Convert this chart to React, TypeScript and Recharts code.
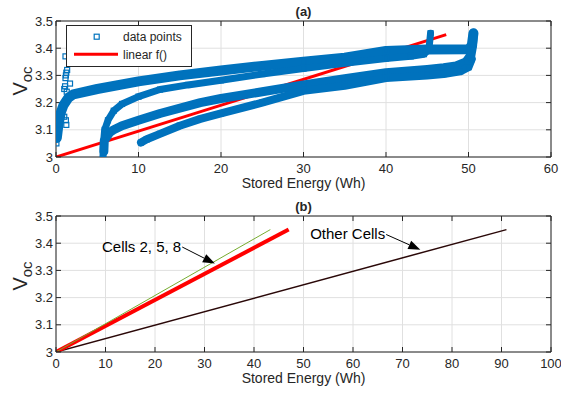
import {
  ComposedChart,
  Scatter,
  Line,
  XAxis,
  YAxis,
  CartesianGrid,
  ReferenceLine,
} from "recharts";

const FONT = '"Liberation Sans", Arial, Helvetica, sans-serif';
const BLUE = "#0072BD";
const RED = "#FF0000";
const GREEN = "#77AC30";
const DARK = "#2a0808";
const INK = "#262626";
const GRID = "#e0e0e0";

type Pt = [number, number];

// tick labels
const energyTicksA = [0, 10, 20, 30, 40, 50, 60];
const energyTicksB = [0, 10, 20, 30, 40, 50, 60, 70, 80, 90, 100];
const vocTicks = [3, 3.1, 3.2, 3.3, 3.4, 3.5];

const bandA: Pt[] = [
  [0.1, 3.07], [0.3, 3.12], [0.6, 3.165], [0.9, 3.19], [1.5, 3.218], [2.1, 3.23],
  [5, 3.25], [10, 3.278], [15, 3.3], [20, 3.318], [25, 3.335], [30, 3.35],
  [35, 3.365], [40, 3.39], [45, 3.395], [50, 3.396], [50.4, 3.41], [50.6, 3.455],
];
const bandBUpper: Pt[] = [
  [5.7, 3.0], [5.75, 3.05], [5.9, 3.1], [6.3, 3.135], [7, 3.17], [8, 3.195],
  [10, 3.222], [12.6, 3.248], [16, 3.265], [20, 3.282], [25, 3.305], [30, 3.325],
  [35, 3.345], [40, 3.362], [43, 3.37], [44.6, 3.378], [45.2, 3.395], [45.4, 3.455],
];
const bandBLower: Pt[] = [
  [5.8, 3.02], [5.85, 3.06], [6.5, 3.09], [7, 3.1], [8, 3.115], [10, 3.135],
  [12.6, 3.16], [17.5, 3.2], [20, 3.215], [25, 3.24], [30, 3.265], [35, 3.288],
  [40, 3.31], [45, 3.322], [47, 3.328], [48.5, 3.335], [49.7, 3.35], [50.3, 3.375],
  [50.5, 3.41], [50.6, 3.455],
];
const bandC: Pt[] = [
  [10.3, 3.053], [11, 3.065], [12.6, 3.085], [15, 3.115], [17.5, 3.14], [20, 3.16],
  [25, 3.2], [30, 3.243], [35, 3.262], [40, 3.29], [45, 3.3], [47, 3.305],
  [49, 3.315], [50, 3.33], [50.4, 3.36],
];
const loosePoints: Pt[] = [
  [0.05, 3.05], [0.05, 3.085], [1.0, 3.148], [1.2, 3.135], [1.25, 3.118],
  [1.0, 3.25], [1.1, 3.26], [1.15, 3.29], [1.25, 3.31], [1.2, 3.3],
  [1.15, 3.37], [1.7, 3.27], [1.3, 3.24], [1.35, 3.32],
];
const linearFit: Pt[] = [[0, 3], [47.3, 3.45]];

// (b) fitted lines
const fitOther: Pt[] = [[0, 3], [91, 3.45]];
const fitCells258: Pt[] = [[0, 3], [47, 3.45]];
const fitGreen: Pt[] = [[0, 3], [43.3, 3.45]];

const calloutCells = { text: "Cells 2, 5, 8", from: [25.5, 3.386] as Pt, to: [32.1, 3.325] as Pt };
const calloutOther = { text: "Other Cells", from: [66.7, 3.432] as Pt, to: [73.6, 3.376] as Pt };

const legendRows = [
  { name: "data points", marker: "square" },
  { name: "linear f()", marker: "line" },
];

const toXY = (pts: Pt[]) => pts.map(([x, y]) => ({ x, y }));

const tickStyle = { fontSize: 13, fill: INK, fontFamily: FONT };
const NoTick = () => <g />;

const HollowSquare = (p: any) =>
  p.cx == null ? null : (
    <rect x={p.cx - 2.5} y={p.cy - 2.5} width={5} height={5} fill="none" stroke={BLUE} strokeWidth={1.2} />
  );

const VocLabel = ({ viewBox }: any) => {
  if (!viewBox) return null;
  const cx = viewBox.x + 27;
  const cy = viewBox.y + viewBox.height / 2 - 8;
  return (
    <text transform={`translate(${cx},${cy}) rotate(-90)`} textAnchor="middle" fill={INK} fontFamily={FONT}>
      <tspan fontSize={20}>V</tspan>
      <tspan fontSize={15} dy={5}>oc</tspan>
    </text>
  );
};

// legend box drawn over plot (a), top-left corner inside the axes
function FitLegend() {
  return (
    <svg width={126} height={42} style={{ position: "absolute", left: 66, top: 25, display: "block" }}>
      <rect x={0.5} y={0.5} width={125} height={41} fill="#fff" stroke={INK} strokeWidth={1} />
      {legendRows.map((r, i) => {
        const cy = 11.7 + i * 17.5;
        return (
          <g key={r.name}>
            {r.marker === "square" ? (
              <rect x={28.2} y={cy - 2.5} width={5} height={5} fill="none" stroke={BLUE} strokeWidth={1.2} />
            ) : (
              <line x1={8} x2={52} y1={cy} y2={cy} stroke={RED} strokeWidth={3} />
            )}
            <text x={57} y={cy + 4.3} fontSize={12} fontFamily={FONT} fill={INK}>
              {r.name}
            </text>
          </g>
        );
      })}
    </svg>
  );
}

function Callout(props: any, text: string) {
  const { x1, y1, x2, y2 } = props;
  if (x1 == null) return <g />;
  const ang = Math.atan2(y2 - y1, x2 - x1);
  const L = 12;
  const W = 4.5;
  const bx = x2 - L * Math.cos(ang);
  const by = y2 - L * Math.sin(ang);
  const px = -Math.sin(ang) * W;
  const py = Math.cos(ang) * W;
  return (
    <g>
      <line x1={x1} y1={y1} x2={bx} y2={by} stroke="#000" strokeWidth={1} />
      <polygon points={`${x2},${y2} ${bx + px},${by + py} ${bx - px},${by - py}`} fill="#000" />
      <text x={x1 - 1} y={y1 + 5} textAnchor="end" fontSize={15} fontFamily={FONT} fill="#000">
        {text}
      </text>
    </g>
  );
}

// box axes: labelled bottom/left, plus mirrored copies for inward ticks on all four sides
function frame(xDomain: number[], xTicks: number[], title: string) {
  return [
    <XAxis
      key="x"
      xAxisId="x"
      dataKey="x"
      type="number"
      domain={xDomain}
      ticks={xTicks}
      interval={0}
      allowDataOverflow
      height={38}
      tickLine={false}
      tickSize={6}
      tickMargin={1}
      axisLine={{ stroke: INK }}
      tick={tickStyle}
      label={{ value: "Stored Energy (Wh)", position: "insideBottom", offset: 7, fill: INK, fontSize: 14, fontFamily: FONT }}
    />,
    <XAxis
      key="xb"
      xAxisId="xb"
      dataKey="x"
      type="number"
      domain={xDomain}
      ticks={xTicks}
      interval={0}
      allowDataOverflow
      mirror
      tick={NoTick}
      tickSize={5}
      tickLine={{ stroke: INK }}
      axisLine={false}
    />,
    <XAxis
      key="xt"
      xAxisId="xt"
      dataKey="x"
      type="number"
      orientation="top"
      domain={xDomain}
      ticks={xTicks}
      interval={0}
      allowDataOverflow
      mirror
      tick={NoTick}
      tickSize={5}
      tickLine={{ stroke: INK }}
      axisLine={{ stroke: INK }}
      label={{ value: title, position: "top", offset: 5, fontWeight: "bold", fontSize: 13, fill: INK, fontFamily: FONT }}
    />,
    <YAxis
      key="y"
      yAxisId="y"
      dataKey="y"
      type="number"
      domain={[3, 3.5]}
      ticks={vocTicks}
      interval={0}
      allowDataOverflow
      width={56}
      tickLine={false}
      tickSize={0}
      tickMargin={3}
      axisLine={{ stroke: INK }}
      tick={tickStyle}
      label={{ content: VocLabel }}
    />,
    <YAxis
      key="yl"
      yAxisId="yl"
      dataKey="y"
      type="number"
      domain={[3, 3.5]}
      ticks={vocTicks}
      interval={0}
      allowDataOverflow
      mirror
      tick={NoTick}
      tickSize={5}
      tickLine={{ stroke: INK }}
      axisLine={false}
    />,
    <YAxis
      key="yr"
      yAxisId="yr"
      dataKey="y"
      type="number"
      orientation="right"
      domain={[3, 3.5]}
      ticks={vocTicks}
      interval={0}
      allowDataOverflow
      mirror
      tick={NoTick}
      tickSize={5}
      tickLine={{ stroke: INK }}
      axisLine={{ stroke: INK }}
    />,
  ];
}

const margin = { top: 21, right: 10, bottom: 0, left: 0 };

const bands = [
  { key: "A", pts: bandA, w: 10 },
  { key: "Bu", pts: bandBUpper, w: 7 },
  { key: "Bl", pts: bandBLower, w: 9 },
  { key: "C", pts: bandC, w: 8 },
];

export default function App() {
  return (
    <div style={{ position: "absolute", left: 0, top: 0, width: 561, height: 393, background: "#fff" }}>
      <ComposedChart width={561} height={195} margin={margin}>
        <CartesianGrid xAxisId="x" yAxisId="y" stroke={GRID} />
        {frame([0, 60], energyTicksA, "(a)")}
        {bands.map((b) => (
          <Scatter
            key={b.key}
            xAxisId="x"
            yAxisId="y"
            data={toXY(b.pts)}
            fill={BLUE}
            line={{ stroke: BLUE, strokeWidth: b.w, strokeLinejoin: "round", strokeLinecap: "round" }}
            shape={HollowSquare}
            isAnimationActive={false}
          />
        ))}
        <Scatter xAxisId="x" yAxisId="y" data={toXY(loosePoints)} fill={BLUE} shape={HollowSquare} isAnimationActive={false} />
        <Line
          xAxisId="x"
          yAxisId="y"
          data={toXY(linearFit)}
          dataKey="y"
          stroke={RED}
          strokeWidth={3}
          dot={false}
          isAnimationActive={false}
        />
      </ComposedChart>
      <FitLegend />
      <ComposedChart width={561} height={195} margin={margin}>
        <CartesianGrid xAxisId="x" yAxisId="y" stroke={GRID} />
        {frame([0, 100], energyTicksB, "(b)")}
        <Line xAxisId="x" yAxisId="y" data={toXY(fitOther)} dataKey="y" stroke={DARK} strokeWidth={1.5} dot={false} isAnimationActive={false} />
        <Line xAxisId="x" yAxisId="y" data={toXY(fitCells258)} dataKey="y" stroke={RED} strokeWidth={4} dot={false} isAnimationActive={false} />
        <Line xAxisId="x" yAxisId="y" data={toXY(fitGreen)} dataKey="y" stroke={GREEN} strokeWidth={1} dot={false} isAnimationActive={false} />
        {[calloutCells, calloutOther].map((c) => (
          <ReferenceLine
            key={c.text}
            xAxisId="x"
            yAxisId="y"
            segment={[{ x: c.from[0], y: c.from[1] }, { x: c.to[0], y: c.to[1] }]}
            shape={(p: any) => Callout(p, c.text)}
          />
        ))}
      </ComposedChart>
    </div>
  );
}
